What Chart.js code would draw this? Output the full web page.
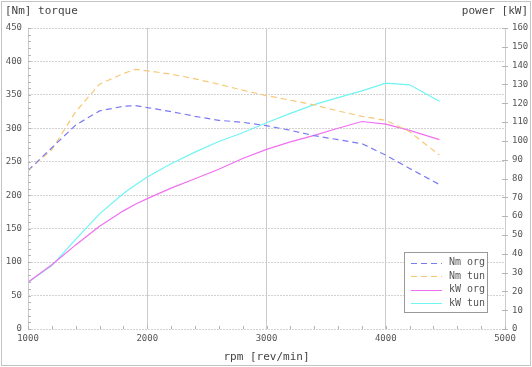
<!DOCTYPE html>
<html>
<head>
<meta charset="utf-8">
<script src="https://cdn.jsdelivr.net/npm/chart.js@4.4.1/dist/chart.umd.min.js"></script>
<style>
html,body{margin:0;padding:0;background:#fff;}
#wrap{width:532px;height:367px;}
</style>
</head>
<body>
<div id="wrap"><canvas id="c" width="532" height="367"></canvas></div>
<script>
// ---- data ----
const rpm = [1000, 1200, 1400, 1600, 1800, 1900, 2000, 2200, 2400, 2600, 2800, 3000, 3200, 3400, 3600, 3800, 4000, 4200, 4450];
const nmOrg = [237, 271, 305, 326, 333, 334, 331, 325, 318, 312, 309, 304, 297, 289, 283, 277, 260, 240, 216];
const nmTun = [237, 268, 325, 366, 382, 388, 386, 381, 374, 366, 357, 349, 342, 335, 326, 318, 312, 295, 260];
const kwOrg = [24.8, 34.2, 44.7, 54.6, 62.8, 66.3, 69.3, 74.9, 79.9, 84.9, 90.6, 95.5, 99.5, 102.9, 106.7, 110.3, 108.9, 105.6, 100.7];
const kwTun = [24.8, 33.7, 47.6, 61.2, 72.0, 76.5, 80.8, 87.8, 94.0, 99.7, 104.3, 109.6, 114.6, 119.3, 123.0, 126.6, 130.7, 129.8, 121.1];
const seriesLabels = ['Nm org', 'Nm tun', 'kW org', 'kW tun'];
const xTitle = 'rpm [rev/min]';
const yTitle = '[Nm] torque';
const y2Title = 'power [kW]';

const MONO = '"DejaVu Sans Mono", "Liberation Mono", monospace';
const pts = (ys) => rpm.map((r, i) => ({x: r, y: ys[i]}));

const colors = ['#7a7af5', '#f8c878', '#f070f0', '#70f4f4'];
const dashes = [[6, 4], [6, 4], [], []];

const decor = {
  id: 'decor',
  beforeDraw(chart) {
    const ctx = chart.ctx;
    ctx.save();
    ctx.fillStyle = '#fff';
    ctx.fillRect(0, 0, chart.width, chart.height);
    ctx.restore();
  },
  afterDraw(chart) {
    const ctx = chart.ctx;
    const a = chart.chartArea;
    const sx = chart.scales.x, sy = chart.scales.y, sy2 = chart.scales.y2;
    ctx.save();
    // outer frame
    ctx.strokeStyle = '#c4c4c4';
    ctx.lineWidth = 1;
    ctx.strokeRect(1.5, 1.5, chart.width - 3, chart.height - 3);
    // left axis line
    ctx.strokeStyle = '#cbcbcb';
    ctx.beginPath();
    ctx.moveTo(Math.round(a.left) + 0.5, a.top);
    ctx.lineTo(Math.round(a.left) + 0.5, a.bottom);
    ctx.stroke();
    // minor ticks
    ctx.strokeStyle = '#b4b4b4';
    ctx.beginPath();
    for (let v = 0; v <= 450; v += 10) {
      const py = Math.round(sy.getPixelForValue(v)) + 0.5;
      ctx.moveTo(a.left, py); ctx.lineTo(a.left + 3, py);
    }
    for (let v = 1000; v <= 5000; v += 200) {
      const px = Math.round(sx.getPixelForValue(v)) + 0.5;
      ctx.moveTo(px, a.bottom); ctx.lineTo(px, a.bottom - 3);
    }
    for (let v = 0; v <= 160; v += 10) {
      const py = Math.round(sy2.getPixelForValue(v)) + 0.5;
      ctx.moveTo(a.right - 3, py); ctx.lineTo(a.right + 3, py);
    }
    ctx.stroke();
    // titles
    ctx.fillStyle = '#444';
    ctx.font = '11px ' + MONO;
    ctx.textBaseline = 'middle';
    ctx.textAlign = 'left';
    ctx.fillText(yTitle, 5, 11);
    ctx.textAlign = 'right';
    ctx.fillText(y2Title, 528, 11);
    ctx.textAlign = 'center';
    ctx.fillText(xTitle, (a.left + a.right) / 2, 357);
    // legend
    const bx = 404, by = 252, bw = 83, bh = 60;
    ctx.fillStyle = '#fff';
    ctx.fillRect(bx, by, bw, bh);
    ctx.strokeStyle = '#999';
    ctx.strokeRect(bx + 0.5, by + 0.5, bw, bh);
    ctx.font = '10px ' + MONO;
    ctx.textAlign = 'left';
    chart.data.datasets.forEach((ds, i) => {
      const yy = by + 10.5 + i * 13.5;
      ctx.strokeStyle = ds.borderColor;
      ctx.setLineDash(ds.borderDash || []);
      ctx.beginPath();
      ctx.moveTo(bx + 7, Math.round(yy) + 0.5);
      ctx.lineTo(bx + 38, Math.round(yy) + 0.5);
      ctx.stroke();
      ctx.setLineDash([]);
      ctx.fillStyle = '#555';
      ctx.fillText(ds.label, bx + 45, yy);
    });
    ctx.restore();
  }
};

new Chart(document.getElementById('c'), {
  type: 'line',
  data: {
    datasets: [
      {label: seriesLabels[0], data: pts(nmOrg), yAxisID: 'y', borderColor: colors[0], borderDash: dashes[0]},
      {label: seriesLabels[1], data: pts(nmTun), yAxisID: 'y', borderColor: colors[1], borderDash: dashes[1]},
      {label: seriesLabels[2], data: pts(kwOrg), yAxisID: 'y2', borderColor: colors[2], borderDash: dashes[2]},
      {label: seriesLabels[3], data: pts(kwTun), yAxisID: 'y2', borderColor: colors[3], borderDash: dashes[3]}
    ].map(d => Object.assign(d, {borderWidth: 1.2, pointRadius: 0, tension: 0, fill: false}))
  },
  options: {
    responsive: false,
    animation: false,
    layout: {padding: {top: 28, left: 0, right: 0, bottom: 0}},
    plugins: {legend: {display: false}, tooltip: {enabled: false}},
    scales: {
      x: {
        type: 'linear', min: 1000, max: 5000,
        ticks: {stepSize: 1000, color: '#555', font: {family: MONO, size: 9}, padding: 4, maxRotation: 0,
                callback: v => String(v)},
        grid: {color: '#cbcbcb', drawTicks: false},
        border: {display: false},
        afterFit: s => { s.height = 38; }
      },
      y: {
        position: 'left', min: 0, max: 450,
        ticks: {stepSize: 50, color: '#555', font: {family: MONO, size: 9}, padding: 6},
        grid: {color: '#d2d2d2', drawTicks: false},
        border: {display: false, dash: [2, 1]},
        afterFit: s => { s.width = 28; }
      },
      y2: {
        position: 'right', min: 0, max: 160,
        ticks: {stepSize: 10, color: '#555', font: {family: MONO, size: 9}, padding: 7},
        grid: {drawOnChartArea: false, drawTicks: false},
        border: {display: true, color: '#cbcbcb'},
        afterFit: s => { s.width = 27; }
      }
    }
  },
  plugins: [decor]
});
</script>
</body>
</html>
